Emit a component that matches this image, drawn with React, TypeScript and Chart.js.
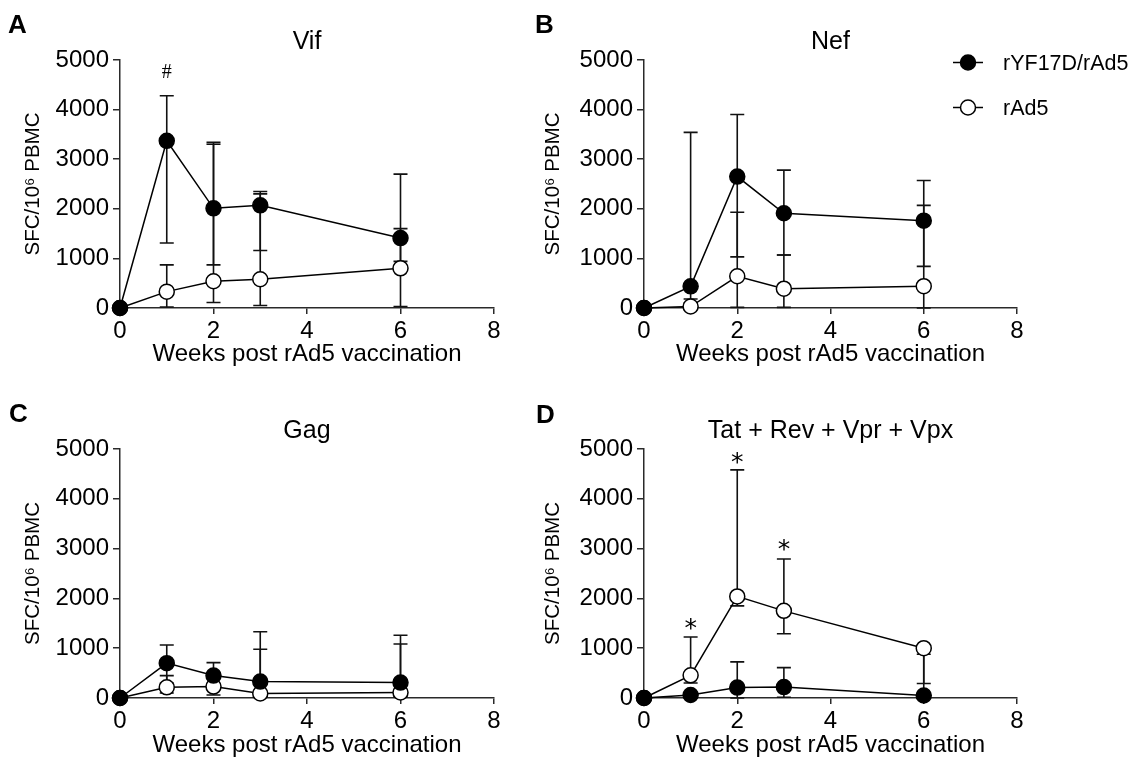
import React, { useEffect, useRef } from 'react';
import { Chart, registerables } from 'chart.js';

Chart.register(...registerables);

// ---------- data ----------
const weeks = [0, 1, 2, 3, 6];
const xTicks = [0, 2, 4, 6, 8];
const yTicks = [0, 1000, 2000, 3000, 4000, 5000];
const seriesNames = ['rYF17D/rAd5', 'rAd5'];
const xTitle = 'Weeks post rAd5 vaccination';
const yTitle = 'SFC/10⁶ PBMC';

// A: Vif
const vifCombo = [0, 3370, 2010, 2070, 1410];
const vifComboHi = [0, 4280, 3340, 2350, 2700];
const vifComboLo = [0, 1310, 870, 1160, 940];
const vifAd5 = [0, 330, 540, 580, 800];
const vifAd5Hi = [0, 870, 3300, 2300, 1600];
const vifAd5Lo = [0, 20, 110, 50, 30];
const vifMarks = [{ week: 1, value: 4780, text: '#' }];

// B: Nef
const nefCombo = [0, 436, 2650, 1910, 1760];
const nefComboHi = [0, 3540, 3900, 2780, 2570];
const nefComboLo = [0, 100, 1030, 1070, 840];
const nefAd5 = [0, 30, 640, 390, 440];
const nefAd5Hi = [0, 180, 1930, 1070, 2070];
const nefAd5Lo = [0, 0, 12, 12, 0];
const nefMarks: { week: number; value: number; text: string }[] = [];

// C: Gag
const gagCombo = [0, 700, 450, 330, 310];
const gagComboHi = [0, 1065, 710, 1330, 1260];
const gagComboLo = [0, 300, 230, 90, 110];
const gagAd5 = [0, 215, 230, 90, 110];
const gagAd5Hi = [0, 450, 450, 980, 1085];
const gagAd5Lo = [0, 100, 60, 25, 25];
const gagMarks: { week: number; value: number; text: string }[] = [];

// D: Tat + Rev + Vpr + Vpx
const trvCombo = [0, 60, 210, 220, 50];
const trvComboHi = [0, 60, 725, 610, 880];
const trvComboLo = [0, 0, 0, 15, 0];
const trvAd5 = [0, 455, 2040, 1750, 1000];
const trvAd5Hi = [0, 1225, 4580, 2790, 1000];
const trvAd5Lo = [0, 300, 1850, 1290, 290];
const trvMarks = [
  { week: 1, value: 1480, text: '*' },
  { week: 2, value: 4820, text: '*' },
  { week: 3, value: 3065, text: '*' },
];

// ---------- styling / layout ----------
const FONT = '"Liberation Sans", Arial, Helvetica, sans-serif';
const AXIS = '#2a2a2a';
const CAP = 7;

type Mark = { week: number; value: number; text: string };
type Panel = {
  letter: string;
  title: string;
  combo: number[]; comboHi: number[]; comboLo: number[];
  ad5: number[]; ad5Hi: number[]; ad5Lo: number[];
  marks: Mark[];
  left: number; top: number; w: number; h: number;
  yWidth: number; padRight: number; plotTop: number; xHeight: number;
  titleBaseline: number; letterX: number; letterBaseline: number;
  xTitlePad: number; legend: boolean;
};

const panels: Panel[] = [
  {
    letter: 'A', title: 'Vif',
    combo: vifCombo, comboHi: vifComboHi, comboLo: vifComboLo,
    ad5: vifAd5, ad5Hi: vifAd5Hi, ad5Lo: vifAd5Lo, marks: vifMarks,
    left: 0, top: 0, w: 520, h: 380,
    yWidth: 120, padRight: 26, plotTop: 60, xHeight: 72,
    titleBaseline: 49, letterX: 8, letterBaseline: 33, xTitlePad: 11, legend: false,
  },
  {
    letter: 'B', title: 'Nef',
    combo: nefCombo, comboHi: nefComboHi, comboLo: nefComboLo,
    ad5: nefAd5, ad5Hi: nefAd5Hi, ad5Lo: nefAd5Lo, marks: nefMarks,
    left: 520, top: 0, w: 611, h: 380,
    yWidth: 124, padRight: 114, plotTop: 60, xHeight: 72,
    titleBaseline: 49, letterX: 15, letterBaseline: 33, xTitlePad: 11, legend: true,
  },
  {
    letter: 'C', title: 'Gag',
    combo: gagCombo, comboHi: gagComboHi, comboLo: gagComboLo,
    ad5: gagAd5, ad5Hi: gagAd5Hi, ad5Lo: gagAd5Lo, marks: gagMarks,
    left: 0, top: 380, w: 520, h: 382,
    yWidth: 120, padRight: 26, plotTop: 69, xHeight: 64,
    titleBaseline: 58, letterX: 9, letterBaseline: 42, xTitlePad: 2, legend: false,
  },
  {
    letter: 'D', title: 'Tat + Rev + Vpr + Vpx',
    combo: trvCombo, comboHi: trvComboHi, comboLo: trvComboLo,
    ad5: trvAd5, ad5Hi: trvAd5Hi, ad5Lo: trvAd5Lo, marks: trvMarks,
    left: 520, top: 380, w: 611, h: 382,
    yWidth: 124, padRight: 114, plotTop: 69, xHeight: 64,
    titleBaseline: 58, letterX: 16, letterBaseline: 43, xTitlePad: 2, legend: false,
  },
];

function makeDecor(p: Panel) {
  return {
    id: 'decor' + p.letter,
    beforeDatasetsDraw(chart: any) {
      const ctx = chart.ctx as CanvasRenderingContext2D;
      const xs = chart.scales.x;
      const ys = chart.scales.y;
      const sets = [
        [p.combo, p.comboHi, p.comboLo],
        [p.ad5, p.ad5Hi, p.ad5Lo],
      ];
      ctx.save();
      ctx.strokeStyle = '#111';
      ctx.lineWidth = 1.6;
      sets.forEach(([m, hi, lo]) => {
        weeks.forEach((w, j) => {
          if (hi[j] === m[j] && lo[j] === m[j]) return;
          const px = xs.getPixelForValue(w);
          const ph = ys.getPixelForValue(hi[j]);
          const pl = ys.getPixelForValue(lo[j]);
          ctx.beginPath();
          ctx.moveTo(px, ph);
          ctx.lineTo(px, pl);
          if (hi[j] > m[j]) {
            ctx.moveTo(px - CAP, ph);
            ctx.lineTo(px + CAP, ph);
          }
          if (lo[j] < m[j]) {
            ctx.moveTo(px - CAP, pl);
            ctx.lineTo(px + CAP, pl);
          }
          ctx.stroke();
        });
      });
      ctx.restore();
    },
    afterDraw(chart: any) {
      const ctx = chart.ctx as CanvasRenderingContext2D;
      const area = chart.chartArea;
      const xs = chart.scales.x;
      const ys = chart.scales.y;
      ctx.save();
      ctx.fillStyle = '#000';
      // panel title
      ctx.font = `25px ${FONT}`;
      ctx.textAlign = 'center';
      ctx.textBaseline = 'alphabetic';
      ctx.fillText(p.title, (area.left + area.right) / 2, p.titleBaseline);
      // panel letter
      ctx.font = `bold 26px ${FONT}`;
      ctx.textAlign = 'left';
      ctx.fillText(p.letter, p.letterX, p.letterBaseline);
      // significance marks
      p.marks.forEach((mk) => {
        ctx.font = mk.text === '#' ? '20px "Liberation Serif", "Times New Roman", serif' : '25px "DejaVu Sans", sans-serif';
        ctx.textAlign = 'center';
        ctx.textBaseline = 'alphabetic';
        const m = ctx.measureText(mk.text);
        const cx = xs.getPixelForValue(mk.week);
        const cy = ys.getPixelForValue(mk.value);
        const base = cy + (m.actualBoundingBoxAscent - m.actualBoundingBoxDescent) / 2;
        ctx.fillText(mk.text, cx, base);
      });
      // legend
      if (p.legend) {
        const rows = [62.5, 107.5];
        chart.data.datasets.forEach((ds: any, i: number) => {
          const y = rows[i];
          ctx.strokeStyle = '#000';
          ctx.lineWidth = 1.5;
          ctx.beginPath();
          ctx.moveTo(433, y);
          ctx.lineTo(463, y);
          ctx.stroke();
          ctx.beginPath();
          ctx.arc(448, y, 7.5, 0, Math.PI * 2);
          ctx.fillStyle = ds.pointBackgroundColor;
          ctx.fill();
          ctx.stroke();
          ctx.fillStyle = '#000';
          ctx.font = `21.5px ${FONT}`;
          ctx.textAlign = 'left';
          ctx.textBaseline = 'alphabetic';
          ctx.fillText(ds.label, 483, y + 7.5);
        });
      }
      ctx.restore();
    },
  };
}

function PanelChart({ p }: { p: Panel }) {
  const ref = useRef<HTMLCanvasElement | null>(null);
  useEffect(() => {
    if (!ref.current) return;
    const mkDs = (label: string, vals: number[], fill: string) => ({
      label,
      data: weeks.map((w, i) => ({ x: w, y: vals[i] })),
      borderColor: '#000',
      borderWidth: 1.5,
      pointRadius: 7.5,
      pointHoverRadius: 7.5,
      pointBackgroundColor: fill,
      pointBorderColor: '#000',
      pointBorderWidth: 1.5,
      tension: 0,
      clip: false,
    });
    const chart = new Chart(ref.current, {
      type: 'line',
      data: {
        datasets: [
          mkDs(seriesNames[0], p.combo, '#000'),
          mkDs(seriesNames[1], p.ad5, '#fff'),
        ] as any,
      },
      options: {
        animation: false,
        responsive: false,
        events: [],
        layout: { padding: { left: 0, right: p.padRight, top: p.plotTop, bottom: 0 } },
        plugins: {
          legend: { display: false },
          tooltip: { enabled: false },
          title: { display: false },
        },
        scales: {
          x: {
            type: 'linear',
            min: 0,
            max: 8,
            afterBuildTicks: (s: any) => {
              s.ticks = xTicks.map((v) => ({ value: v }));
            },
            afterFit: (s: any) => {
              s.height = p.xHeight;
            },
            grid: { drawOnChartArea: false, drawTicks: true, tickLength: 6, color: AXIS, lineWidth: 1.5 },
            border: { display: true, color: AXIS, width: 1.5 },
            ticks: {
              color: '#000',
              font: { family: FONT, size: 24 },
              padding: 2.5,
              maxRotation: 0,
              autoSkip: false,
              callback: (v: any) => String(v),
            },
            title: {
              display: true,
              text: xTitle,
              color: '#000',
              font: { family: FONT, size: 24 },
              padding: { top: 0, bottom: p.xTitlePad },
            },
          },
          y: {
            type: 'linear',
            min: 0,
            max: 5000,
            afterBuildTicks: (s: any) => {
              s.ticks = yTicks.map((v) => ({ value: v }));
            },
            afterFit: (s: any) => {
              s.width = p.yWidth;
            },
            grid: { drawOnChartArea: false, drawTicks: true, tickLength: 7, color: AXIS, lineWidth: 1.5 },
            border: { display: true, color: AXIS, width: 1.5 },
            ticks: {
              color: '#000',
              font: { family: FONT, size: 24 },
              padding: 4,
              autoSkip: false,
              callback: (v: any) => String(v),
            },
            title: {
              display: true,
              text: yTitle,
              color: '#000',
              font: { family: FONT, size: 20.5 },
              padding: { top: 21, bottom: 0 },
            },
          },
        },
      } as any,
      plugins: [makeDecor(p)],
    });
    return () => chart.destroy();
  }, [p]);
  return (
    <canvas
      ref={ref}
      width={p.w}
      height={p.h}
      style={{ position: 'absolute', left: p.left, top: p.top, width: p.w, height: p.h }}
    />
  );
}

export default function App() {
  return (
    <div style={{ position: 'absolute', left: 0, top: 0, width: 1131, height: 762, background: '#fff', overflow: 'hidden' }}>
      {panels.map((p) => (
        <PanelChart key={p.letter} p={p} />
      ))}
    </div>
  );
}
